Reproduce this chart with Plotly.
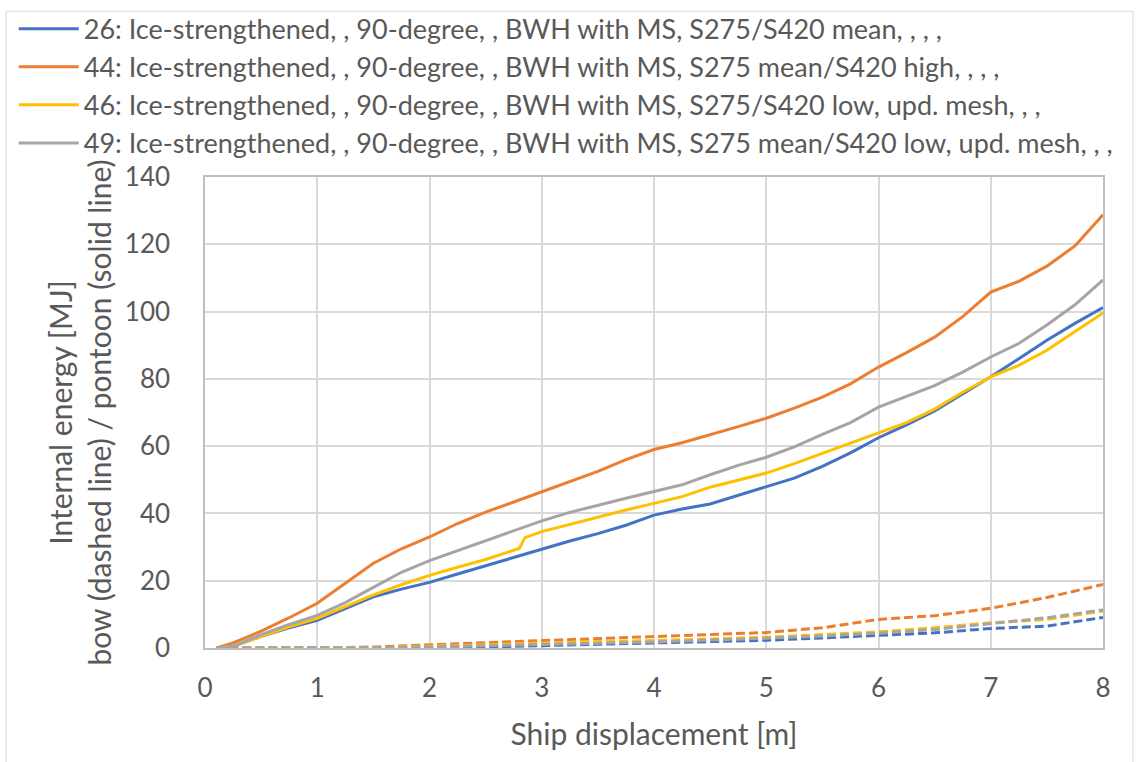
import plotly.graph_objects as go

# ---------------- data ----------------
x_solid = [0.1, 0.25, 0.5, 0.75, 1.0, 1.25, 1.5, 1.75, 2.0, 2.25, 2.5, 2.8, 2.85, 3.0,
           3.25, 3.5, 3.75, 4.0, 4.25, 4.5, 4.75, 5.0, 5.25, 5.5, 5.75, 6.0, 6.25, 6.5,
           6.75, 7.0, 7.25, 7.5, 7.75, 8.0]

pontoon_26 = [0, 0.5, 3.5, 6.0, 8.2, 11.8, 15.2, 17.5, 19.5, 22.0, 24.5, 27.5, 28.0, 29.5,
              31.8, 34.0, 36.5, 39.5, 41.3, 42.8, 45.3, 47.8, 50.5, 54.0, 58.0, 62.5, 66.3, 70.5,
              75.5, 80.6, 86.0, 91.5, 96.5, 101.2]
pontoon_44 = [0, 1.5, 5.0, 9.0, 13.3, 19.2, 25.2, 29.5, 33.0, 37.0, 40.4, 44.0, 44.6, 46.5,
              49.5, 52.5, 56.0, 59.0, 61.0, 63.3, 65.8, 68.3, 71.3, 74.6, 78.5, 83.5, 87.8, 92.4,
              98.5, 105.8, 109.0, 113.5, 119.5, 128.8]
pontoon_46 = [0, 0.5, 3.5, 6.3, 8.8, 12.3, 15.8, 18.8, 21.6, 24.0, 26.3, 29.6, 32.8, 34.6,
              36.8, 39.0, 41.0, 43.0, 45.0, 47.8, 49.8, 52.0, 54.8, 57.8, 60.8, 64.0, 67.0, 71.0,
              76.0, 80.6, 84.0, 88.5, 94.0, 99.6]
pontoon_49 = [0, 0.5, 4.0, 7.0, 9.7, 13.5, 18.0, 22.5, 26.0, 29.0, 32.0, 35.5, 36.0, 37.8,
              40.3, 42.5, 44.5, 46.5, 48.5, 51.5, 54.3, 56.7, 59.8, 63.5, 67.0, 71.6, 74.8, 78.0,
              82.0, 86.5, 90.5, 96.0, 102.0, 109.4]

x_dashed = [0.1, 0.5, 1.0, 1.5, 2.0, 2.5, 3.0, 3.5, 4.0, 4.5, 5.0, 5.5, 6.0, 6.5, 7.0, 7.5, 8.0]
bow_26 = [0, 0, 0, 0, 0, 0.3, 0.8, 1.1, 1.5, 1.9, 2.3, 3.0, 3.8, 4.5, 5.8, 6.5, 9.1]
bow_44 = [0, 0, 0, 0.3, 1.0, 1.5, 2.2, 2.8, 3.5, 4.0, 4.6, 6.0, 8.5, 9.6, 11.8, 15.0, 18.9]
bow_46 = [0, 0, 0, 0.1, 0.5, 1.0, 1.5, 1.9, 2.2, 2.7, 3.2, 4.0, 4.8, 6.0, 7.5, 8.5, 11.0]
bow_49 = [0, 0, 0, 0.1, 0.3, 0.6, 1.0, 1.4, 1.8, 2.3, 2.9, 3.6, 4.4, 5.5, 7.3, 9.0, 11.3]

names = [
    "26: Ice-strengthened, , 90-degree, , BWH with MS, S275/S420 mean, , , ,",
    "44: Ice-strengthened, , 90-degree, , BWH with MS, S275 mean/S420 high, , , ,",
    "46: Ice-strengthened, , 90-degree, , BWH with MS, S275/S420 low, upd. mesh, , ,",
    "49: Ice-strengthened, , 90-degree, , BWH with MS, S275 mean/S420 low, upd. mesh, , ,",
]
colors = ["#4472C4", "#ED7D31", "#FFC000", "#A5A5A5"]

x_ticks = [0, 1, 2, 3, 4, 5, 6, 7, 8]
y_ticks = [0, 20, 40, 60, 80, 100, 120, 140]

# ---------------- figure ----------------
FONT = "Lato"
TXT = "#595959"

fig = go.Figure()
solids = [pontoon_26, pontoon_44, pontoon_46, pontoon_49]
dashes = [bow_26, bow_44, bow_46, bow_49]

for ys, c in zip(dashes, colors):
    fig.add_trace(go.Scatter(x=x_dashed, y=ys, mode="lines", showlegend=False,
                             line=dict(color=c, width=3, dash="9px,4px")))
for ys, c, n in zip(solids, colors, names):
    fig.add_trace(go.Scatter(x=x_solid, y=ys, mode="lines", name=n,
                             line=dict(color=c, width=3)))

fig.update_layout(
    width=1140, height=762,
    margin=dict(l=205, r=37, t=177, b=114, autoexpand=False),
    paper_bgcolor="white", plot_bgcolor="white",
    font=dict(family=FONT, size=26, color=TXT),
    legend=dict(x=-0.213, y=1.366, xanchor="left", yanchor="top",
                font=dict(family=FONT, size=27, color=TXT),
                bgcolor="rgba(0,0,0,0)", tracegroupgap=0, itemwidth=60),
    shapes=[dict(type="rect", xref="paper", yref="paper",
                 x0=-0.2216, x1=1.0334, y0=-0.26, y1=1.352,
                 line=dict(color="#D9D9D9", width=1), fillcolor="rgba(0,0,0,0)", layer="below")],
)
fig.update_xaxes(range=[0, 8], tickvals=x_ticks, ticktext=[str(v) for v in x_ticks],
                 showgrid=True, gridcolor="#D9D9D9", gridwidth=1.5,
                 showline=True, linecolor="#BFBFBF", linewidth=1.5, mirror=True,
                 zeroline=False, ticks="", ticklabelstandoff=16, automargin=False,
                 tickfont=dict(family=FONT, size=26, color=TXT),
                 title=dict(text="Ship displacement [m]", standoff=22,
                            font=dict(family=FONT, size=30, color=TXT)))
fig.update_yaxes(range=[0, 140], tickvals=y_ticks, ticktext=[str(v) for v in y_ticks],
                 showgrid=True, gridcolor="#D9D9D9", gridwidth=1.5,
                 showline=True, linecolor="#BFBFBF", linewidth=1.5, mirror=True,
                 zeroline=False, ticks="", ticklabelstandoff=28, automargin=False,
                 tickfont=dict(family=FONT, size=26, color=TXT),
                 title=dict(text="Internal energy [MJ]<br>bow (dashed line) / pontoon (solid line)",
                            standoff=4, font=dict(family=FONT, size=30, color=TXT)))

fig.write_html("out.html")
